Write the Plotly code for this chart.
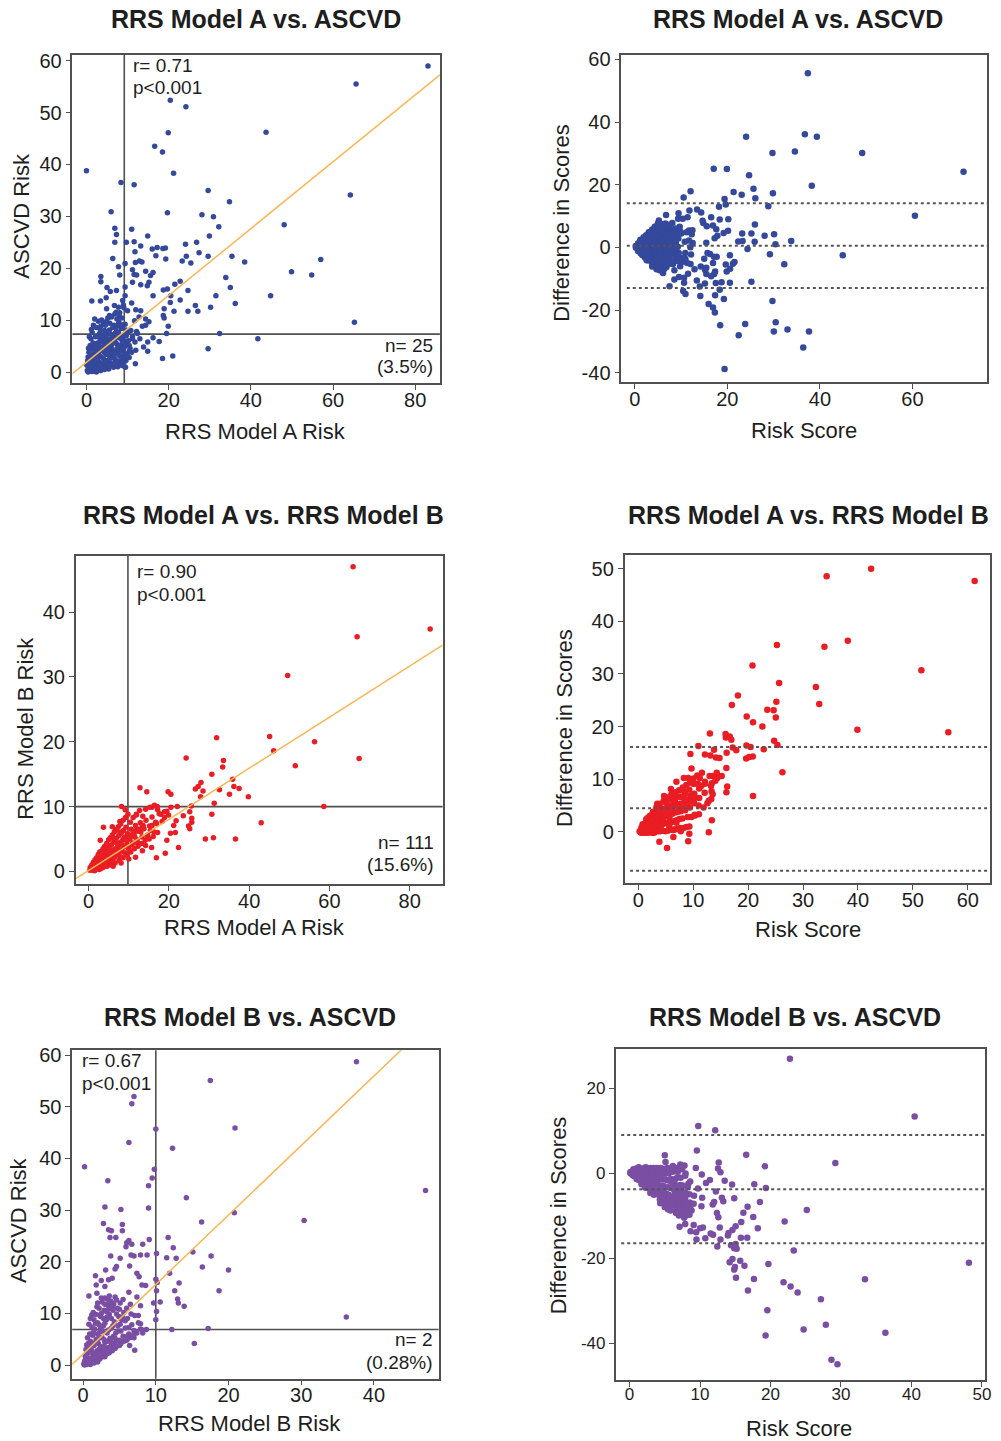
import plotly.graph_objects as go

W, H = 1001, 1441

# ---------------- data (risk scores, %) ----------------
# RRS Model A risk vs ASCVD risk, one (rrs_a, ascvd) pair per patient
a_ascvd_sparse = [
    (83.1, 59.0), (65.6, 55.5), (43.7, 46.2), (64.2, 34.1), (65.2, 9.6), (48.1, 28.4), (57.0, 21.7),
    (54.8, 18.7), (49.9, 19.3), (44.8, 14.7), (41.7, 6.4), (38.5, 21.2), (35.4, 22.3), (34.8, 32.8),
    (33.9, 18.2), (35.0, 16.3), (36.2, 13.2), (32.4, 7.4), (32.2, 28.0), (30.9, 29.9), (29.9, 26.2),
    (29.6, 35.0), (28.1, 30.3), (29.6, 22.3), (27.4, 23.0), (26.8, 25.0), (26.5, 12.8), (27.1, 11.7),
    (30.2, 12.5), (31.5, 14.7), (29.6, 4.5), (24.2, 51.1), (20.4, 52.4), (19.9, 46.1), (16.6, 43.5),
    (18.5, 42.4), (21.2, 38.3), (19.7, 30.7), (24.1, 24.6), (24.3, 22.3), (25.4, 21.0), (23.3, 21.4),
    (22.8, 17.5), (24.7, 15.7), (24.7, 11.7), (22.8, 13.9), (21.3, 11.7), (20.4, 13.4), (20.5, 14.7),
    (21.5, 16.9), (18.7, 15.8), (19.7, 16.0), (18.9, 12.2), (18.7, 10.9), (18.9, 10.4), (19.9, 8.8),
    (19.5, 7.4), (21.0, 3.1), (18.5, 2.6), (17.7, 5.9), (16.2, 6.6), (14.9, 5.8), (14.9, 4.0),
    (16.2, 14.7), (14.9, 26.2), (16.0, 23.7), (17.2, 24.0), (18.6, 23.8), (19.2, 23.9), (16.9, 22.4),
    (19.3, 21.8), (16.2, 19.2), (15.6, 18.6), (15.2, 17.3), (14.4, 19.4), (14.8, 16.6), (13.5, 21.2),
    (12.9, 21.4), (11.9, 21.1), (13.2, 24.3), (11.6, 25.1), (11.0, 27.5), (11.8, 23.2), (11.2, 19.7),
    (11.6, 18.8), (11.2, 17.3), (12.2, 18.7), (13.2, 16.8), (11.6, 36.1), (8.4, 36.5), (0.0, 38.8),
    (6.0, 30.9), (6.9, 27.7), (7.3, 26.5), (6.9, 25.0), (6.4, 21.9), (9.7, 25.0), (9.4, 20.9),
    (7.8, 20.3), (8.1, 18.7), (3.5, 18.4), (3.5, 17.4), (5.0, 16.3), (5.8, 15.5), (7.3, 15.7),
    (9.4, 16.4), (9.4, 14.7), (3.4, 13.7), (1.3, 13.7), (4.8, 14.3), (6.8, 12.8), (7.8, 12.5),
    (8.8, 13.8), (9.0, 12.9), (10.0, 11.8), (11.0, 13.3), (12.0, 12.0), (13.2, 11.8), (12.8, 10.6),
    (11.7, 9.9), (4.9, 12.2), (5.6, 10.9), (7.2, 11.5), (8.0, 10.6), (11.9, 1.6), (13.9, 4.8),
    (12.0, 4.2), (10.4, 4.0), (14.4, 10.2), (15.2, 9.7), (14.4, 9.0), (12.4, 7.4), (11.2, 6.4),
    (10.4, 5.1),
]
a_ascvd_dense = [
    (0.2, 0.3), (0.5, 1.0), (0.8, 0.2), (1.0, 1.8), (1.2, 0.6), (1.5, 2.5), (1.6, 0.9), (1.8, 3.4),
    (2.0, 1.5), (2.1, 0.4), (2.3, 2.8), (2.5, 4.2), (2.6, 1.1), (2.8, 3.6), (3.0, 2.0), (3.1, 5.0),
    (3.3, 0.8), (3.4, 3.0), (3.6, 4.6), (3.8, 1.6), (4.0, 6.2), (4.1, 2.6), (4.3, 3.8), (4.5, 5.4),
    (4.6, 1.2), (4.8, 7.0), (5.0, 2.2), (5.1, 4.3), (5.3, 6.0), (5.5, 3.2), (5.6, 8.1), (5.8, 1.8),
    (6.0, 5.0), (6.2, 7.2), (6.3, 2.9), (6.5, 4.0), (6.7, 9.0), (6.8, 6.1), (7.0, 2.4), (7.2, 5.6),
    (7.3, 7.8), (7.5, 3.6), (7.7, 4.8), (7.9, 9.6), (8.0, 6.6), (8.2, 1.4), (8.4, 5.2), (8.5, 8.4),
    (8.7, 3.0), (8.9, 7.0), (9.0, 4.4), (9.2, 6.0), (9.4, 9.2), (9.6, 2.2), (9.8, 5.6), (10.0, 7.6),
    (0.3, 2.2), (0.6, 3.8), (0.9, 5.1), (1.1, 6.4), (1.4, 7.6), (1.7, 9.0), (2.0, 10.2), (2.2, 6.8),
    (2.4, 8.6), (2.7, 5.6), (2.9, 9.8), (3.2, 7.4), (3.5, 8.8), (3.7, 10.0), (4.2, 9.4), (4.4, 8.0),
    (4.9, 9.8), (5.2, 10.4), (5.7, 9.4), (6.1, 10.6), (6.4, 8.6), (6.9, 11.2), (7.4, 10.2), (8.1, 11.4),
    (8.6, 10.4), (9.1, 12.4), (0.4, 0.0), (1.3, 0.1), (2.4, 0.0), (3.5, 0.3), (4.4, 0.5), (5.4, 0.6),
    (6.6, 0.9), (7.6, 1.0), (8.8, 1.2), (9.5, 0.9), (1.9, 0.2), (2.9, 0.6), (4.0, 0.9), (5.0, 1.4),
    (6.0, 1.6), (7.1, 1.8), (8.0, 2.1), (9.0, 2.6), (1.0, 3.0), (1.3, 4.4), (1.6, 5.6), (2.2, 2.0),
    (2.5, 3.2), (3.0, 3.8), (3.3, 6.4), (3.9, 4.2), (4.2, 5.8), (4.7, 3.4), (5.0, 4.8), (5.4, 7.4),
    (5.9, 6.4), (6.2, 3.8), (6.6, 5.6), (7.0, 6.8), (7.4, 4.4), (7.8, 7.6), (8.3, 4.0), (8.8, 5.8),
    (9.3, 3.6), (9.7, 7.0), (10.2, 6.0), (10.6, 4.6), (10.8, 8.0), (11.2, 6.8), (11.8, 5.8), (12.2, 7.8),
    (13.0, 6.4), (13.6, 8.8), (10.4, 2.8), (11.0, 3.8), (1.2, 8.2), (0.7, 6.8), (0.5, 4.6),
    (0.1, 1.3), (0.4, 2.9), (0.7, 0.9), (1.1, 2.4), (1.4, 3.3), (1.9, 4.7), (2.3, 5.3), (2.6, 2.4),
    (3.2, 1.3), (3.6, 5.9), (3.9, 7.1), (4.3, 2.0), (4.7, 6.5), (5.2, 3.7), (5.6, 5.2), (6.0, 2.7),
    (6.4, 6.9), (6.8, 3.3), (7.2, 8.6), (7.6, 5.2), (8.1, 3.1), (8.5, 6.3), (8.9, 9.1), (9.3, 4.9),
    (9.6, 8.1), (1.5, 1.4), (2.1, 3.9), (2.8, 7.0), (3.4, 8.0), (4.0, 4.8), (4.6, 9.0), (5.1, 5.8),
    (5.5, 1.1), (6.2, 4.5), (6.9, 7.4), (7.5, 9.0), (8.3, 8.8), (8.7, 4.6), (9.1, 1.8), (9.9, 3.2),
]

# RRS Model A risk vs RRS Model B risk, one (rrs_a, rrs_b) pair per patient
a_b_sparse = [
    (65.9, 47.0), (85.1, 37.4), (66.9, 36.2), (49.6, 30.2), (31.9, 20.6), (45.1, 20.8), (56.3, 20.0),
    (46.1, 18.6), (67.4, 17.4), (51.5, 16.3), (24.3, 17.5), (33.6, 17.1), (33.4, 16.1), (35.9, 14.2),
    (30.7, 15.0), (36.2, 13.1), (37.5, 12.8), (32.6, 12.6), (35.1, 11.9), (39.8, 11.5), (28.0, 13.7),
    (27.3, 13.1), (26.6, 12.7), (28.5, 12.4), (27.9, 11.5), (31.3, 10.5), (12.8, 12.9), (14.5, 12.3),
    (19.8, 12.3), (20.5, 11.9), (58.6, 10.0), (43.0, 7.5), (30.7, 8.8), (25.6, 10.1), (25.2, 9.2),
    (25.7, 8.2), (25.7, 7.6), (24.9, 7.0), (25.2, 6.6), (23.6, 8.6), (29.1, 5.0), (31.1, 5.2),
    (36.6, 5.0), (22.4, 3.7), (16.9, 2.1), (19.1, 2.8), (19.5, 4.8), (22.1, 10.0), (20.5, 9.9),
    (19.5, 9.3), (19.9, 8.7), (18.9, 8.3), (15.8, 9.9), (17.1, 10.0), (18.0, 8.8), (16.7, 7.6),
    (15.8, 7.1), (15.4, 6.3), (21.2, 7.1), (21.6, 6.0), (20.4, 5.9), (21.8, 7.8), (14.6, 5.5),
    (13.4, 7.0), (12.5, 6.5), (11.9, 8.7), (11.3, 6.0), (14.2, 4.0), (15.7, 3.7), (13.4, 3.2),
    (11.7, 2.2), (8.2, 10.0), (9.1, 9.5), (7.8, 7.7), (3.7, 6.8), (5.9, 6.9), (6.8, 6.4), (2.9, 4.8),
]
a_b_dense = [
    (0.3, 0.2), (0.6, 0.5), (0.9, 0.3), (1.1, 0.8), (1.3, 0.4), (1.4, 1.2), (1.7, 0.6), (1.9, 1.0),
    (2.1, 1.6), (2.2, 0.7), (2.5, 1.3), (2.7, 2.0), (2.9, 0.9), (3.1, 1.5), (3.3, 2.4), (3.4, 1.1),
    (3.7, 1.9), (3.9, 2.9), (4.1, 1.3), (4.3, 2.3), (4.4, 3.3), (4.7, 1.7), (4.9, 2.7), (5.1, 3.7),
    (5.2, 1.5), (5.5, 2.5), (5.7, 4.1), (5.9, 2.0), (6.1, 3.3), (6.3, 4.6), (6.5, 2.2), (6.7, 3.5),
    (6.9, 5.1), (7.1, 2.7), (7.3, 4.0), (7.5, 5.5), (7.7, 3.0), (7.9, 4.5), (8.1, 5.9), (8.3, 3.3),
    (8.5, 4.8), (8.7, 6.3), (8.9, 3.8), (9.1, 5.3), (9.3, 6.8), (9.5, 4.1), (9.7, 5.8), (9.9, 3.6),
    (10.3, 5.0), (10.6, 6.5), (11.0, 4.4), (11.3, 5.7), (11.7, 7.1), (12.1, 4.9), (12.4, 6.2),
    (12.9, 7.5), (13.3, 5.3), (13.8, 6.6), (14.3, 7.9), (14.7, 5.6), (15.2, 7.0), (15.8, 8.4),
    (16.3, 6.1), (16.9, 7.4), (17.6, 8.9), (18.3, 7.7), (18.9, 9.2),
    (0.4, 0.6), (0.8, 1.0), (1.2, 1.4), (1.6, 1.8), (2.0, 2.1), (2.4, 2.6), (2.8, 3.0), (3.2, 3.1),
    (3.6, 3.5), (4.0, 3.9), (4.5, 4.3), (5.0, 4.9), (5.4, 5.2), (5.9, 5.6), (6.4, 6.1), (6.8, 6.4),
    (7.4, 6.9), (8.0, 7.3), (8.6, 7.9), (9.2, 8.3), (9.8, 8.8), (10.4, 7.6), (11.1, 8.3), (11.9, 8.8),
    (12.7, 9.4), (13.5, 8.5), (14.2, 9.6), (15.3, 9.9), (16.4, 10.2), (17.2, 9.5),
    (1.5, 0.1), (2.6, 0.3), (3.6, 0.6), (4.6, 0.8), (5.6, 1.0), (6.6, 1.3), (7.6, 1.7), (8.6, 2.1),
    (9.6, 2.5), (10.5, 3.0), (11.4, 3.5), (12.3, 3.9), (13.2, 4.3), (14.1, 4.8), (15.1, 5.0),
    (16.1, 5.4), (17.2, 6.0), (6.1, 0.8), (8.1, 1.3), (10.0, 1.9),
    (1.0, 0.2), (1.8, 0.5), (2.3, 1.0), (3.0, 0.4), (3.5, 1.3), (4.2, 0.9), (4.8, 1.9), (5.3, 2.9),
    (6.0, 1.6), (6.6, 2.8), (7.2, 3.6), (7.8, 2.3), (8.4, 4.0), (9.0, 2.9), (9.6, 4.7), (10.1, 3.4),
    (10.8, 4.1), (11.5, 5.3), (12.2, 4.4), (13.0, 6.1), (2.0, 1.3), (3.8, 2.5), (5.6, 3.3), (7.0, 4.4),
    (8.8, 5.1), (10.5, 5.6), (11.8, 6.3), (13.6, 7.1), (6.2, 5.1), (7.8, 6.1), (4.6, 3.6), (3.0, 2.0),
]

# RRS Model B risk vs ASCVD risk, one (rrs_b, ascvd) pair per patient
b_ascvd_sparse = [
    (37.6, 58.7), (17.5, 55.1), (7.0, 52.0), (6.7, 50.6), (20.9, 45.9), (10.0, 45.7), (6.3, 43.1),
    (12.3, 42.0), (0.2, 38.4), (9.8, 37.9), (9.5, 36.2), (9.0, 34.7), (3.4, 35.7), (47.1, 33.8),
    (14.2, 32.4), (3.0, 30.6), (5.2, 30.1), (9.0, 30.4), (20.8, 29.5), (30.4, 28.0), (16.3, 27.7),
    (2.8, 27.4), (5.4, 27.2), (5.4, 26.0), (3.5, 26.2), (3.9, 26.0), (11.7, 24.7), (9.1, 24.3),
    (3.7, 24.7), (4.5, 24.7), (6.0, 23.7), (6.3, 24.1), (6.7, 23.4), (5.9, 22.9), (8.2, 23.4),
    (12.4, 22.7), (15.1, 21.9), (10.1, 21.6), (6.6, 21.3), (7.0, 21.1), (7.9, 21.3), (8.8, 21.3),
    (17.6, 21.1), (11.5, 20.8), (12.8, 20.7), (3.8, 21.1), (5.1, 20.7), (4.6, 19.1), (4.4, 18.6),
    (6.4, 19.2), (3.1, 18.4), (16.4, 19.0), (20.0, 18.4), (11.9, 17.8), (7.4, 17.8), (7.7, 17.1),
    (1.7, 17.3), (2.5, 16.4), (3.5, 16.5), (4.0, 16.8), (13.2, 15.9), (10.0, 16.6), (10.2, 16.0),
    (8.6, 15.4), (8.1, 15.5), (1.8, 15.5), (3.0, 15.2), (18.7, 14.4), (12.6, 14.4), (10.1, 14.4),
    (6.3, 14.1), (1.9, 13.9), (0.8, 13.4), (7.4, 13.2), (13.0, 12.8), (13.1, 12.0), (10.6, 12.2),
    (9.7, 12.0), (13.9, 11.4), (7.9, 11.5), (7.6, 9.6), (10.1, 10.4), (10.0, 8.8), (36.2, 9.3),
    (12.2, 6.9), (17.2, 7.1), (15.3, 4.2), (7.9, 8.0), (7.0, 6.7), (8.2, 6.2), (8.7, 6.9), (6.1, 5.6),
    (6.4, 3.8), (7.1, 2.9), (7.0, 5.3),
]
b_ascvd_dense = [
    (0.1, 0.2), (0.3, 1.0), (0.5, 2.2), (0.6, 0.4), (0.8, 3.4), (0.9, 1.4), (1.0, 4.6), (1.1, 0.6),
    (1.2, 2.6), (1.3, 5.8), (1.4, 1.8), (1.5, 3.8), (1.6, 7.0), (1.7, 0.9), (1.8, 5.0), (1.9, 2.8),
    (2.0, 8.2), (2.1, 4.2), (2.2, 1.4), (2.3, 6.4), (2.4, 9.4), (2.5, 3.2), (2.6, 5.4), (2.7, 1.6),
    (2.8, 7.6), (2.9, 10.6), (3.0, 4.4), (3.1, 2.2), (3.2, 8.8), (3.3, 6.2), (3.4, 11.6), (3.5, 3.4),
    (3.6, 9.8), (3.7, 5.2), (3.8, 12.4), (3.9, 7.2), (4.0, 3.0), (4.1, 10.6), (4.2, 4.2), (4.3, 8.4),
    (4.4, 13.2), (4.5, 6.2), (4.6, 3.6), (4.7, 11.0), (4.8, 7.6), (4.9, 9.4), (5.0, 4.8), (5.1, 12.0),
    (5.2, 6.6), (5.3, 8.8), (5.5, 5.6), (5.6, 10.2), (5.8, 7.2), (6.0, 4.8), (6.1, 9.0), (6.3, 6.0),
    (6.5, 11.8), (6.7, 7.8), (6.9, 5.6), (7.1, 9.6), (7.3, 6.4), (7.6, 8.2), (7.9, 7.0), (8.2, 6.8),
    (0.2, 0.0), (0.4, 0.6), (0.7, 1.2), (1.0, 0.1), (1.3, 0.5), (1.6, 2.2), (2.0, 0.6), (2.3, 1.2),
    (2.6, 2.0), (3.0, 1.6), (3.3, 2.2), (3.6, 2.4), (4.0, 2.8), (4.4, 3.2), (0.4, 3.0), (0.7, 4.2),
    (0.9, 6.0), (1.2, 7.4), (1.5, 8.8), (1.8, 9.8), (2.2, 11.0), (2.6, 12.2), (3.0, 13.0), (3.3, 12.8),
    (3.6, 13.4), (4.0, 12.0), (1.0, 9.0), (1.4, 10.2), (2.0, 6.0), (2.4, 7.0), (2.8, 9.0), (3.2, 10.4),
    (1.1, 3.0), (1.7, 4.4), (2.2, 3.0), (2.8, 2.8), (3.4, 4.6), (3.8, 3.6), (4.2, 5.6), (4.6, 4.6),
    (5.2, 4.2), (5.6, 4.6), (5.0, 3.8), (6.2, 5.2), (6.6, 5.4), (7.0, 6.0), (7.4, 6.2), (2.0, 12.0),
    (2.5, 13.0), (3.0, 11.8), (3.5, 10.8), (4.0, 11.2), (4.6, 12.6),
    (0.3, 1.7), (0.5, 3.9), (0.6, 5.3), (0.8, 7.9), (0.9, 2.5), (1.1, 4.1), (1.2, 9.7), (1.4, 6.3),
    (1.5, 2.0), (1.7, 8.1), (1.8, 1.2), (1.9, 11.3), (2.1, 5.1), (2.2, 7.8), (2.4, 3.6), (2.5, 10.0),
    (2.7, 6.6), (2.9, 4.9), (3.0, 8.1), (3.2, 3.0), (3.3, 9.3), (3.5, 6.8), (3.6, 12.1), (3.8, 5.0),
    (3.9, 9.0), (4.1, 7.6), (4.2, 11.8), (4.4, 5.2), (4.6, 9.9), (4.8, 6.6), (5.0, 10.8), (5.1, 7.9),
    (5.4, 9.3), (5.5, 12.7), (5.8, 8.6), (6.0, 11.0), (6.3, 7.3), (6.6, 9.9), (0.2, 0.7), (0.5, 0.1),
    (0.8, 0.6), (1.2, 1.2), (1.5, 0.4), (1.9, 1.8), (2.4, 2.4), (2.9, 3.6), (3.4, 2.9), (3.9, 4.3),
]

# summary statistics shown on each panel
fit_a_ascvd = (1.87, 0.644)      # intercept, slope
fit_a_b = (0.14, 0.394)
fit_b_ascvd = (2.15, 1.345)
cut_a_ascvd = (9.2, 7.3)         # vertical, horizontal reference lines
cut_a_b = (9.8, 10.0)
cut_b_ascvd = (10.0, 6.9)
loa_a_ascvd = [14.1, 0.54, -13.0]   # upper limit, mean difference, lower limit
loa_a_b = [16.1, 4.47, -7.45]
loa_b_ascvd = [9.0, -3.8, -16.5]

BLUE = "#34489c"
RED = "#ea1d24"
PURPLE = "#7a4ea3"
FIT = "#f9b653"
INK = "#1e1e1e"
FRAME = "#505050"
FONT = "Liberation Sans"


def unzip(*lists):
    pts = [p for lst in lists for p in lst]
    return [p[0] for p in pts], [p[1] for p in pts]


def bland_altman(x, y):
    means = [(u + v) / 2 for u, v in zip(x, y)]
    diffs = [u - v for u, v in zip(x, y)]
    return means, diffs


a1, c1 = unzip(a_ascvd_sparse, a_ascvd_dense)
a3, b3 = unzip(a_b_sparse, a_b_dense)
b5, c5 = unzip(b_ascvd_sparse, b_ascvd_dense)

fig = go.Figure()


def px_x(v):
    return v / W


def px_y(v):
    return 1 - v / H


def axis(box, xr, yr, xt, yt, n, tsize=20):
    left, top, right, bottom = box
    common = dict(showline=True, mirror=True, linecolor=FRAME, linewidth=1.6,
                  ticks="outside", ticklen=5, tickwidth=1.2, tickcolor=FRAME,
                  showgrid=False, zeroline=False,
                  tickfont=dict(family=FONT, size=tsize, color=INK))
    sfx = "" if n == 1 else str(n)
    fig.update_layout(**{
        f"xaxis{sfx}": dict(domain=[px_x(left), px_x(right)], range=xr, anchor=f"y{sfx}",
                            tickmode="array", tickvals=xt, ticktext=[str(v) for v in xt],
                            ticklabelstandoff=-7, **common),
        f"yaxis{sfx}": dict(domain=[px_y(bottom), px_y(top)], range=yr, anchor=f"x{sfx}",
                            tickmode="array", tickvals=yt, ticktext=[str(v) for v in yt], **common),
    })
    return ("x" + sfx, "y" + sfx)


def text(s, x, y, size=19, bold=False, angle=0, xanchor="center", align="center"):
    fig.add_annotation(text=f"<b>{s}</b>" if bold else s, x=px_x(x), y=px_y(y),
                       xref="paper", yref="paper", showarrow=False, textangle=angle,
                       xanchor=xanchor, yanchor="middle", align=align,
                       font=dict(family=FONT, size=size, color=INK))


def scatter_panel(n, box, xr, yr, xt, yt, x, y, color, fit, cut):
    xa, ya = axis(box, xr, yr, xt, yt, n)
    fig.add_trace(go.Scatter(x=x, y=y, mode="markers", xaxis=xa, yaxis=ya,
                             marker=dict(size=5.5, color=color, line=dict(width=0)),
                             showlegend=False))
    b0, b1 = fit
    fig.add_trace(go.Scatter(x=[xr[0], xr[1]], y=[b0 + b1 * xr[0], b0 + b1 * xr[1]],
                             mode="lines", xaxis=xa, yaxis=ya,
                             line=dict(color=FIT, width=1.5), showlegend=False))
    vx, hy = cut
    fig.add_shape(type="line", xref=xa, yref=f"{ya} domain", x0=vx, x1=vx, y0=0, y1=1,
                  line=dict(color=FRAME, width=1.6), layer="below")
    fig.add_shape(type="line", xref=f"{xa} domain", yref=ya, x0=0, x1=1, y0=hy, y1=hy,
                  line=dict(color=FRAME, width=1.6), layer="below")


def ba_panel(n, box, xr, yr, xt, yt, x, y, color, loa, tsize=20):
    xa, ya = axis(box, xr, yr, xt, yt, n, tsize)
    m, d = bland_altman(x, y)
    fig.add_trace(go.Scatter(x=m, y=d, mode="markers", xaxis=xa, yaxis=ya,
                             marker=dict(size=6.5, color=color, line=dict(width=0)),
                             showlegend=False))
    for v in loa:
        fig.add_shape(type="line", xref=f"{xa} domain", yref=ya, x0=0.015, x1=1, y0=v, y1=v,
                      line=dict(color="#555555", width=2, dash="dot"), layer="above")


# Row 1: RRS Model A vs ASCVD
scatter_panel(1, (73, 48, 443, 378), [-3.4, 86.0], [-2.1, 61.15],
              [0, 20, 40, 60, 80], [0, 10, 20, 30, 40, 50, 60], a1, c1, BLUE, fit_a_ascvd, cut_a_ascvd)
ba_panel(2, (625.7, 48.3, 994.3, 377.3), [-2.92, 76.2], [-43.05, 61.4],
         [0, 20, 40, 60], [-40, -20, 0, 20, 40, 60], a1, c1, BLUE, loa_a_ascvd)

# Row 2: RRS Model A vs RRS Model B
scatter_panel(3, (76.3, 551.7, 445.7, 882.3), [-3.2, 88.2], [-2.0, 48.7],
              [0, 20, 40, 60, 80], [0, 10, 20, 30, 40], a3, b3, RED, fit_a_b, cut_a_b)
ba_panel(4, (629, 550.7, 997.3, 881), [-2.48, 64.1], [-9.78, 52.7],
         [0, 10, 20, 30, 40, 50, 60], [0, 10, 20, 30, 40, 50], a3, b3, RED, loa_a_b)

# Row 3: RRS Model B vs ASCVD
scatter_panel(5, (72.7, 1049, 441.7, 1379.3), [-1.5, 48.9], [-2.62, 60.96],
              [0, 10, 20, 30, 40], [0, 10, 20, 30, 40, 50, 60], b5, c5, PURPLE, fit_b_ascvd, cut_b_ascvd)
ba_panel(6, (620, 1048.3, 991.7, 1380.7), [-1.97, 50.4], [-48.7, 29.1],
         [0, 10, 20, 30, 40, 50], [-40, -20, 0, 20], b5, c5, PURPLE, loa_b_ascvd, tsize=17)

# panel titles
text("RRS Model A vs. ASCVD", 258, 12, size=25, bold=True)
text("RRS Model A vs. ASCVD", 804, 12, size=25, bold=True)
text("RRS Model A vs. RRS Model B", 265, 511, size=25, bold=True)
text("RRS Model A vs. RRS Model B", 814, 511, size=25, bold=True)
text("RRS Model B vs. ASCVD", 252, 1016, size=25, bold=True)
text("RRS Model B vs. ASCVD", 801, 1016, size=25, bold=True)

# axis titles
text("RRS Model A Risk", 257, 427, size=22)
text("ASCVD Risk", 22, 210, size=22, angle=-90)
text("Risk Score", 810, 426, size=22)
text("Difference in Scores", 566, 217, size=22, angle=-90)
text("RRS Model A Risk", 256, 926, size=22)
text("RRS Model B Risk", 26, 725, size=22, angle=-90)
text("Risk Score", 814, 928, size=22)
text("Difference in Scores", 569, 725, size=22, angle=-90)
text("RRS Model B Risk", 251, 1424, size=22)
text("ASCVD Risk", 18, 1220, size=22, angle=-90)
text("Risk Score", 805, 1429, size=22)
text("Difference in Scores", 562, 1215, size=22, angle=-90)

# correlation and count labels
text("r= 0.71", 132, 59, size=19, xanchor="left")
text("p<0.001", 132, 81, size=19, xanchor="left")
text("n= 25", 438, 340, size=19, xanchor="right")
text("(3.5%)", 438, 362, size=19, xanchor="right")
text("r= 0.90", 136, 568, size=19, xanchor="left")
text("p<0.001", 136, 591, size=19, xanchor="left")
text("n= 111", 439, 840, size=19, xanchor="right")
text("(15.6%)", 439, 862, size=19, xanchor="right")
text("r= 0.67", 81, 1059, size=19, xanchor="left")
text("p<0.001", 81, 1083, size=19, xanchor="left")
text("n= 2", 438, 1340, size=19, xanchor="right")
text("(0.28%)", 438, 1363, size=19, xanchor="right")

fig.update_layout(width=W, height=H, margin=dict(l=0, r=0, t=0, b=0),
                  paper_bgcolor="white", plot_bgcolor="white",
                  font=dict(family=FONT, color=INK))

fig.write_html("out.html")
